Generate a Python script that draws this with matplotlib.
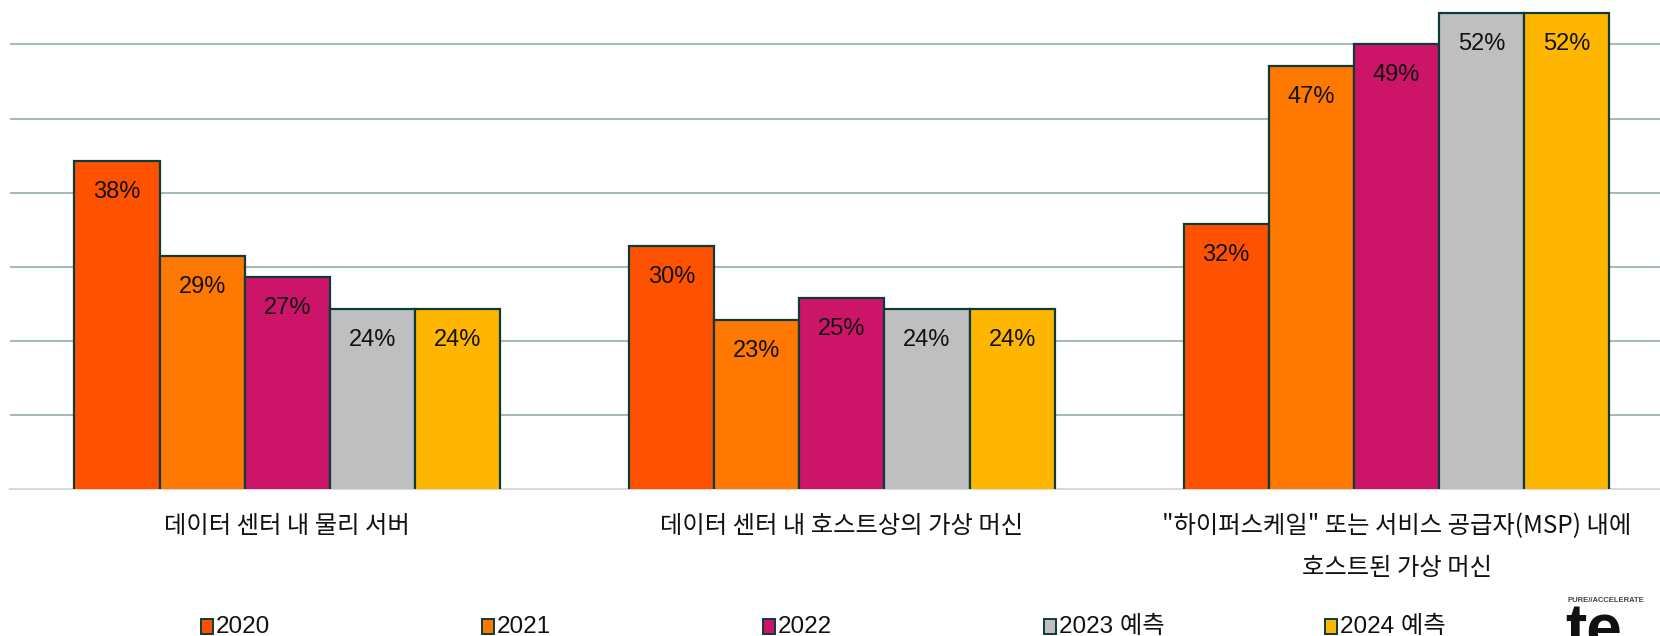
import numpy as np
import matplotlib
matplotlib.use("Agg")
import matplotlib.pyplot as plt
from matplotlib.patches import Rectangle

plt.rcParams['font.family'] = ['Liberation Sans', 'Noto Sans CJK KR', 'DejaVu Sans']

categories = ["데이터 센터 내 물리 서버",
              "데이터 센터 내 호스트상의 가상 머신",
              "\"하이퍼스케일\" 또는 서비스 공급자(MSP) 내에\n호스트된 가상 머신"]
series = ["2020", "2021", "2022", "2023 예측", "2024 예측"]
values = {
    "2020": [38, 30, 32],
    "2021": [29, 23, 47],
    "2022": [27, 25, 49],
    "2023 예측": [24, 24, 52],
    "2024 예측": [24, 24, 52],
}
colors = ["#FF5200", "#FF7800", "#CC1569", "#BFBFBF", "#FFB600"]
edge = "#0E3B3A"

W, H = 1660, 636
fig = plt.figure(figsize=(W / 100, H / 100), dpi=100)
base_px = 489
ax = fig.add_axes([10 / W, (H - base_px) / H, 1 - 10 / W, base_px / H])

x = np.arange(len(categories))
bw = 0.1535
px_per_pct = 74.1 / 7
for i, s in enumerate(series):
    xs = x + (i - 2) * bw
    bars = ax.bar(xs, values[s], bw, bottom=0, color=colors[i],
                  edgecolor=edge, linewidth=1.6, zorder=3)
    for b, v in zip(bars, values[s]):
        ax.annotate(f"{v}%", (b.get_x() + bw / 2, v), xytext=(0, -31 * 0.72),
                    textcoords="offset points", ha="center", va="center",
                    fontsize=17, color="#111111", zorder=4)

ax.set_xlim(-0.5, -0.5 + (W - 10) / 554.6)
ax.set_ylim(7, 7 + base_px / px_per_pct)
ax.set_yticks(np.arange(14, 53, 7))
ax.yaxis.grid(True, color="#A7BABA", linewidth=1.5, zorder=0)
ax.tick_params(axis="y", length=0, labelleft=False)
ax.set_xticks(x)
ax.set_xticklabels(categories, fontsize=17.5, family=['Noto Sans CJK KR', 'DejaVu Sans'],
                   color="#111111", linespacing=1.82)
ax.tick_params(axis="x", length=0, pad=17)
for sp in ["top", "left", "right"]:
    ax.spines[sp].set_visible(False)
ax.spines["bottom"].set_color("#D9D9D9")
ax.spines["bottom"].set_linewidth(1.5)
ax.set_facecolor("none")

# legend, evenly spaced like the original
leg_y = (H - 627) / H
for i, s in enumerate(series):
    lx = (201 + i * 281) / W
    fig.patches.append(Rectangle((lx, leg_y - 7 / H), 12 / W, 15 / H,
                                 transform=fig.transFigure, facecolor=colors[i],
                                 edgecolor=edge, linewidth=1.4))
    fig.text(lx + 15 / W, leg_y, s, fontsize=17.5, va="center", ha="left",
             family=['Liberation Sans', 'Noto Sans CJK KR'],
             color="#111111")

# logo fragment at the corner
fig.text(1567 / W, (H - 601) / H, "PURE//ACCELERATE", fontsize=5.5, fontweight="bold",
         color="#444444", va="center", ha="left")
fig.text(1565 / W, -14 / H, "te", fontsize=46, fontweight="bold",
         color="#111111", va="baseline", ha="left")

fig.savefig("out.png", dpi=100)
